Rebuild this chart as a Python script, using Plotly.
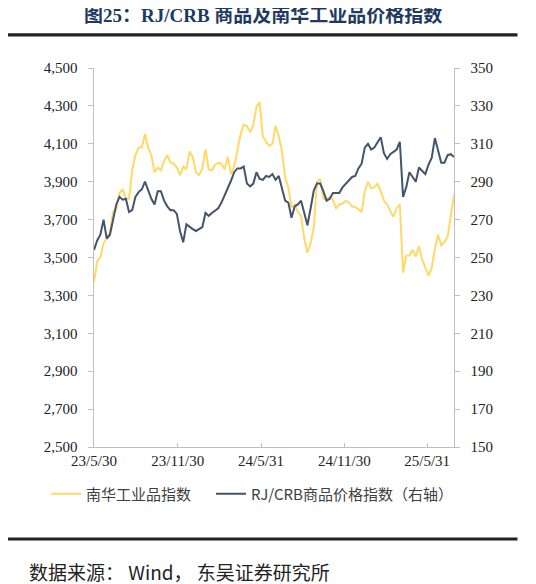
import pandas as pd
import plotly.graph_objects as go

# weekly readings, starting 2023-05-30
nanhua = [3370, 3480, 3500, 3575, 3600, 3635, 3740, 3760, 3840, 3860,
          3810, 3810, 3960, 4040, 4080, 4080, 4150, 4080, 4040, 3950,
          3975, 3960, 4010, 4040, 4000, 3995, 3975, 3935, 3980, 3965,
          4060, 4030, 3950, 3935, 3970, 4070, 3965, 3960, 3990, 4000,
          3995, 3965, 4030, 3940, 3980, 4060, 4150, 4200, 4195, 4160,
          4200, 4295, 4320, 4140, 4110, 4090, 4100, 4195, 4140, 4060,
          3920, 3870, 3765, 3780, 3740, 3720, 3600, 3525, 3575, 3660,
          3900, 3915, 3810, 3810, 3820, 3805, 3760, 3780, 3785, 3800,
          3790, 3770, 3765, 3755, 3740, 3850, 3900, 3865, 3870, 3890,
          3850, 3800, 3780, 3745, 3715, 3760, 3780, 3420, 3510, 3510,
          3540, 3505, 3560, 3490, 3445, 3405, 3445, 3545, 3620, 3565,
          3580, 3610, 3720, 3830]

rjcrb = [254, 259, 262, 270, 260, 262, 270, 278, 282, 280.5,
         281, 274, 275, 282, 284.5, 286, 290, 285.5, 281, 278,
         285, 285, 280, 277, 275, 275, 273, 264, 258, 267.5,
         266, 265, 264, 265, 266, 273.5, 272, 273.5, 275, 276,
         279, 283, 286, 290.5, 295, 297, 297, 298, 289, 287.5,
         289, 295, 291.5, 291, 293, 292.5, 294, 291, 293, 286,
         280, 279, 271, 277, 278, 280, 273, 267, 276, 285.5,
         289, 289, 285, 280, 281, 284, 284, 284, 287, 289,
         291, 292.5, 293, 297, 299.5, 308, 310, 307, 308, 311,
         313.5, 305, 302, 304.5, 306, 307, 311, 282, 287, 295,
         292.5, 290, 297.5, 296, 294, 299, 302.5, 313, 306, 300,
         300, 304, 304.5, 303]

tick_dates = ["2023-05-30", "2023-11-30", "2024-05-31", "2024-11-30", "2025-05-31"]
tick_labels = ["23/5/30", "23/11/30", "24/5/31", "24/11/30", "25/5/31"]

dates = pd.date_range("2023-05-30", periods=len(nanhua), freq="7D")

# the page body keeps its default 8px margin, so everything is laid out 8px up/left
OFF = 8
W, H = 536, 584
pw, ph = 360, 379
L, T = 94 - OFF, 68 - OFF
R, B = W - L - pw, H - T - ph


# screen pixel -> paper coords
def px_x(x):
    return (x - OFF - L) / pw


def px_y(y):
    return (H - B - (y - OFF)) / ph


serif = "Times New Roman, Liberation Serif, Noto Sans CJK SC"
cjk = "Noto Sans CJK SC, Liberation Serif"
axis_grey = "#BFBFBF"
gap = "\u2002"  # a little extra room between tick marks and labels

fig = go.Figure()
fig.add_trace(go.Scatter(x=dates, y=nanhua, name="南华工业品指数\u2002\u2002", mode="lines",
                         line=dict(color="#FFD966", width=2)))
fig.add_trace(go.Scatter(x=dates, y=rjcrb, name="RJ/CRB商品价格指数（右轴）", mode="lines",
                         line=dict(color="#44546A", width=2), yaxis="y2"))

fig.update_layout(
    width=W, height=H, autosize=False,
    margin=dict(l=L, r=R, t=T, b=B),
    paper_bgcolor="white", plot_bgcolor="white",
    title=dict(text="<b>图25：RJ/CRB 商品及南华工业品价格指数</b>",
               x=0.476, xanchor="center", y=1 - 1 / H, yanchor="top",
               font=dict(family=serif, size=19, color="#1F3A60")),
    xaxis=dict(range=["2023-05-30", "2025-07-29"], tickvals=tick_dates, ticktext=tick_labels,
               showline=True, linecolor=axis_grey, linewidth=1, showgrid=False, zeroline=False,
               ticks="inside", ticklen=4, tickcolor=axis_grey,
               tickfont=dict(family=serif, size=15, color="#222")),
    yaxis=dict(range=[2500, 4500], tick0=2500, dtick=200, tickformat=",d", ticksuffix=gap,
               showline=True, linecolor=axis_grey, linewidth=1, showgrid=False, zeroline=False,
               ticks="outside", ticklen=5, tickcolor=axis_grey,
               tickfont=dict(family=serif, size=15, color="#222")),
    yaxis2=dict(range=[150, 350], tick0=150, dtick=20, overlaying="y", side="right", tickprefix=gap,
                showline=True, linecolor=axis_grey, linewidth=1, showgrid=False, zeroline=False,
                ticks="outside", ticklen=5, tickcolor=axis_grey,
                tickfont=dict(family=serif, size=15, color="#222")),
    legend=dict(orientation="h", x=px_x(46), xanchor="left", y=px_y(494), yanchor="middle",
                font=dict(family=cjk, size=15, color="#404040"), bgcolor="rgba(0,0,0,0)"),
    showlegend=True,
)

# rules under the title and above the source note
for yy in [34.5, 539]:
    fig.add_shape(type="line", xref="paper", yref="paper",
                  x0=px_x(5), x1=px_x(517), y0=px_y(yy), y1=px_y(yy),
                  line=dict(color="#222", width=2))
    # backup: a thin filled box in case the margin shape is not drawn
    fig.add_annotation(text=".", xref="paper", yref="paper",
                       x=px_x(261), xanchor="center", y=px_y(yy), yanchor="middle",
                       width=512, height=2, borderpad=0, bgcolor="#222",
                       showarrow=False, font=dict(size=2, color="#222"))

fig.add_annotation(text="数据来源： Wind， 东吴证券研究所", xref="paper", yref="paper",
                   x=px_x(27), xanchor="left", y=px_y(571), yanchor="middle",
                   showarrow=False, font=dict(family=cjk, size=19, color="#222"))

fig.write_html("out.html", config={"displayModeBar": False})
